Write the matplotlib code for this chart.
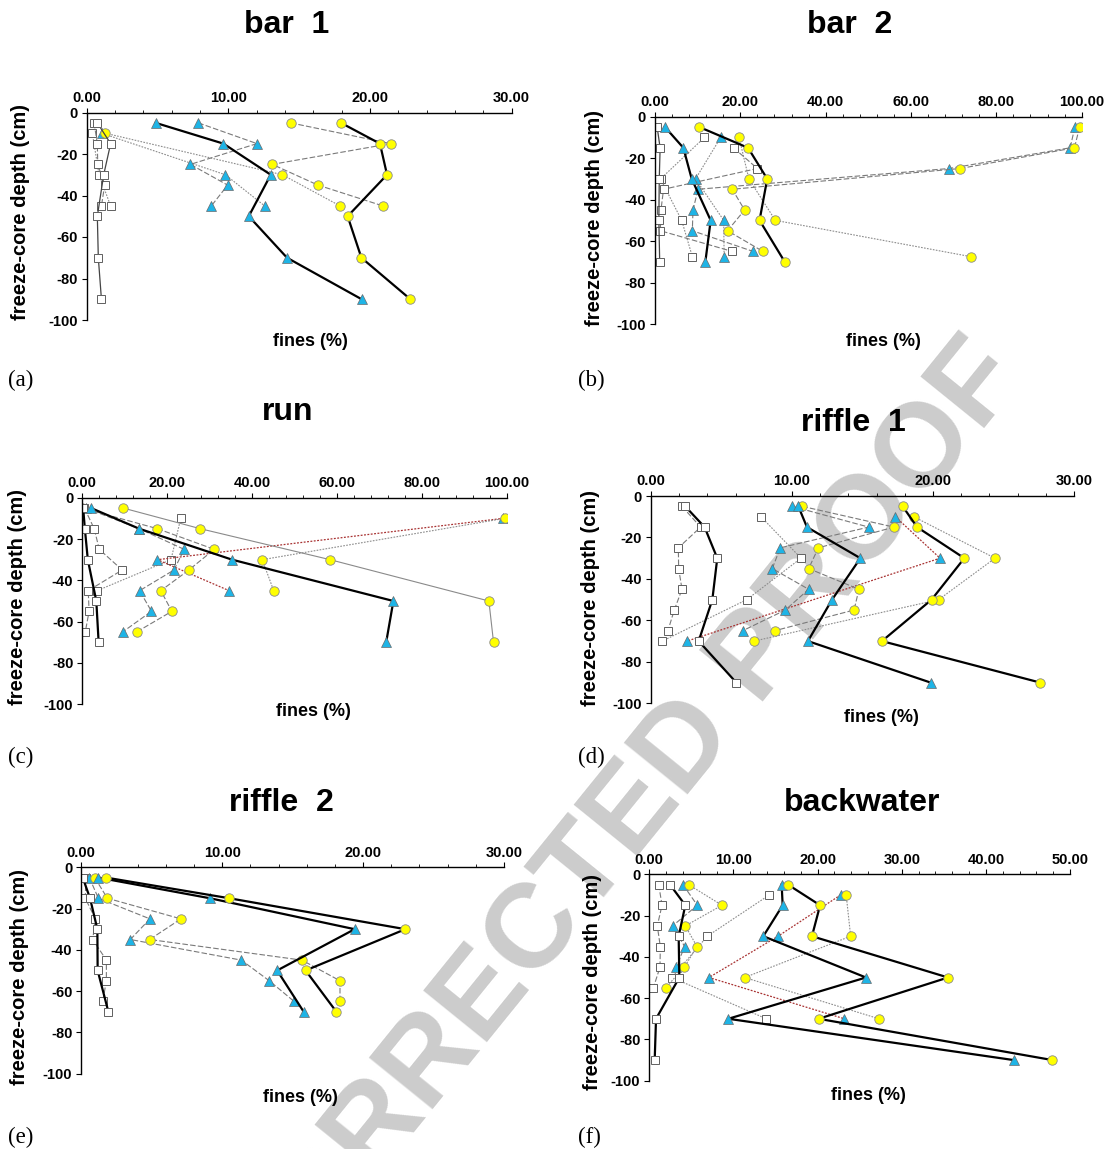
import matplotlib
matplotlib.use("Agg")
import matplotlib.pyplot as plt
import numpy as np

plt.rcParams["font.family"] = ["Liberation Sans", "DejaVu Sans"]

W, H = 1110, 1149

# ---- panel (a) bar 1 ----
a_solid_depth = [-5, -15, -30, -50, -70, -90]
a_solid_sq = [0.75, 1.69, 1.20, 0.75, 0.82, 1.04]
a_solid_tri = [4.87, 9.65, 12.99, 11.44, 14.14, 19.41]
a_solid_circ = [17.95, 20.70, 21.20, 18.42, 19.39, 22.85]
a_dash_depth = [-5, -15, -25, -35, -45]
a_dash_sq = [0.52, 0.75, 0.78, 1.27, 1.04]
a_dash_tri = [7.88, 12.02, 7.32, 9.95, 8.80]
a_dash_circ = [14.40, 21.46, 13.10, 16.33, 20.90]
a_dot_depth = [-10, -30, -45]
a_dot_sq = [0.40, 0.87, 1.69]
a_dot_tri = [1.06, 9.79, 12.56]
a_dot_circ = [1.32, 13.81, 17.88]

# ---- panel (b) bar 2 ----
b_solid_depth = [-5, -15, -30, -50, -70]
b_solid_sq = [0.5, 1.2, 1.0, 0.9, 1.1]
b_solid_tri = [2.34, 6.64, 8.6, 13.05, 11.8]
b_solid_circ = [10.4, 21.8, 26.3, 24.5, 30.4]
b_dash_depth = [-5, -15, -25, -35, -45, -55, -65]
b_dash_sq_depth = [-15, -25, -35, -45, -55, -65]
b_dash_sq = [18.4, 24.0, 2.0, 1.4, 1.25, 18.1]
b_dash_tri = [98.4, 97.3, 68.9, 10.1, 8.9, 8.75, 23.0]
b_dash_circ = [99.5, 98.3, 71.5, 18.1, 21.0, 17.0, 25.3]
b_dot_depth = [-10, -30, -50, -67.5]
b_dot_sq = [11.6, 1.3, 6.25, 8.75]
b_dot_tri = [15.4, 9.5, 16.1, 16.2]
b_dot_circ = [19.7, 22.0, 28.2, 74.0]

# ---- panel (c) run ----
c_solid_depth = [-5, -15, -30, -50, -70]
c_solid_sq = [0.2, 0.6, 1.3, 3.3, 3.85]
c_solid_tri = [2.04, 13.4, 35.3, 73.3, 71.6]
c_solid_circ = [9.6, 27.8, 58.4, 95.8, 96.9]
c_dash_depth = [-5, -15, -25, -35, -45, -55, -65]
c_dash_sq = [0.5, 2.8, 4.0, 9.4, 1.4, 1.6, 0.7]
c_dash_tri = [0.8, 13.4, 24.0, 21.6, 13.5, 16.3, 9.5]
c_dash_circ = [0.0, 17.7, 31.1, 25.1, 18.5, 21.1, 12.8]
c_dot_depth = [-10, -30, -45]
c_dot_sq = [23.2, 20.9, 3.5]
c_dot_tri = [99.2, 17.7, 34.6]
c_dot_circ = [99.5, 42.4, 45.1]

# ---- panel (d) riffle 1 ----
d_solid_depth = [-5, -15, -30, -50, -70, -90]
d_solid_sq = [2.43, 3.8, 4.7, 4.35, 3.38, 6.05]
d_solid_tri = [10.45, 11.06, 14.85, 12.84, 11.13, 19.83]
d_solid_circ = [17.85, 18.87, 22.22, 19.9, 16.38, 27.6]
d_dash_depth = [-5, -15, -25, -35, -45, -55, -65]
d_dash_sq = [2.2, 3.52, 1.94, 1.96, 2.2, 1.65, 1.2]
d_dash_tri = [10.02, 15.44, 9.17, 8.6, 11.18, 9.53, 6.5]
d_dash_circ = [10.73, 17.23, 11.87, 11.18, 14.75, 14.4, 8.77]
d_dot_depth = [-10, -30, -50, -70]
d_dot_sq = [7.8, 10.64, 6.79, 0.8]
d_dot_tri_depth = [-10, -30, -70]
d_dot_tri = [17.33, 20.5, 2.55]
d_dot_circ = [18.63, 24.4, 20.4, 7.3]

# ---- panel (e) riffle 2 ----
e_solid_depth = [-5, -15, -30, -50, -70]
e_solid_sq = [0.1, 0.62, 1.14, 1.16, 1.92]
e_solid_tri = [1.21, 9.13, 19.4, 13.9, 15.78]
e_solid_circ = [1.77, 10.5, 23.0, 15.92, 18.1]
e_dash_depth = [-5, -15, -25, -35, -45, -55, -65]
e_dash_sq = [0.33, 0.28, 1.0, 0.81, 1.78, 1.78, 1.52]
e_dash_tri = [0.57, 1.21, 4.87, 3.48, 11.36, 13.34, 15.1]
e_dash_circ = [0.95, 1.85, 7.07, 4.85, 15.66, 18.36, 18.36]

# ---- panel (f) backwater ----
f_solid_depth = [-5, -15, -30, -50, -70, -90]
f_solid_sq = [2.46, 4.28, 3.49, 3.57, 0.8, 0.64]
f_solid_tri = [15.73, 15.85, 13.55, 25.75, 9.39, 43.3]
f_solid_circ = [16.48, 20.3, 19.33, 35.5, 20.13, 47.9]
f_dash_depth = [-5, -15, -25, -35, -45, -55]
f_dash_sq = [1.12, 1.51, 0.95, 1.31, 1.27, 0.48]
f_dash_tri_depth = [-5, -15, -25, -35, -45]
f_dash_tri = [4.0, 5.7, 2.77, 4.2, 3.2]
f_dash_circ = [4.67, 8.64, 4.28, 5.67, 4.16, 1.94]
f_dot_depth = [-10, -30, -50, -70]
f_dot_sq = [14.26, 6.89, 2.7, 13.9]
f_dot_tri = [22.74, 15.3, 7.09, 23.18]
f_dot_circ = [23.4, 23.93, 11.33, 27.3]

titles = ["bar  1", "bar  2", "run", "riffle  1", "riffle  2", "backwater"]
letters = ["(a)", "(b)", "(c)", "(d)", "(e)", "(f)"]

# line styles
SOLID = dict(color="black", lw=1.6, ls="-")
THIN = dict(color="#444444", lw=0.9, ls="-")
GRAYSOLID = dict(color="#8a8a8a", lw=0.8, ls="-")
DASH = dict(color="#7a7a7a", lw=0.8, ls=(0, (5, 2)))
DOT = dict(color="#8c8c8c", lw=0.8, ls=(0, (1.5, 1.2)))
RED = dict(color="#a83232", lw=0.9, ls=(0, (1.5, 1.2)))

SQ = dict(marker="s", ms=6, mfc="white", mec="#606060", mew=0.7)
TRI = dict(marker="^", ms=6.5, mfc="#1eb4e6", mec="#6a6a6a", mew=0.5)
CIRC = dict(marker="o", ms=6.8, mfc="#ffff00", mec="#8a8a8a", mew=0.6)

fig = plt.figure(figsize=(W / 100, H / 100), dpi=100)


def px_axes(l, r, t, b):
    ax = fig.add_axes([l / W, 1 - b / H, (r - l) / W, (b - t) / H])
    ax.set_facecolor("none")
    return ax


def ftext(x, y, s, **kw):
    fig.text(x / W, 1 - y / H, s, **kw)


def series(ax, x, y, line, mk):
    ax.plot(x, y, **line, **mk)


def style_axes(ax, xmax, major, minor):
    ax.set_xlim(0, xmax)
    ax.set_ylim(-100, 0)
    ax.xaxis.tick_top()
    for s in ("right", "bottom"):
        ax.spines[s].set_visible(False)
    for s in ("left", "top"):
        ax.spines[s].set_linewidth(1.0)
    xt = np.arange(0, xmax + 0.01, major)
    ax.set_xticks(xt)
    ax.set_xticklabels(["%.2f" % v for v in xt], fontweight="bold", fontsize=10.5)
    ax.set_xticks(np.arange(0, xmax + 0.01, minor), minor=True)
    yt = np.arange(-100, 1, 20)
    ax.set_yticks(yt)
    ax.set_yticklabels(["%d" % v for v in yt], fontweight="bold", fontsize=10.5)
    ax.tick_params(axis="x", which="major", direction="out", length=3.5, pad=2)
    ax.tick_params(axis="x", which="minor", direction="out", length=2.5)
    ax.tick_params(axis="y", which="major", direction="out", length=3.5, pad=3)
    ax.tick_params(axis="y", which="minor", left=False)


# axes boxes in pixels: left, right, top, bottom
boxes = [
    (86.7, 511.7, 112.5, 320.0),
    (655.0, 1081.7, 116.7, 324.0),
    (82.3, 506.7, 497.7, 704.3),
    (651.0, 1074.0, 496.0, 703.3),
    (81.3, 504.0, 867.3, 1073.6),
    (649.3, 1070.0, 874.3, 1080.7),
]
xmaxes = [30, 100, 100, 30, 30, 50]
majors = [10, 20, 20, 10, 10, 10]
minors = [2, 4, 4, 2, 2, 2]
title_pos = [(287, 25), (850, 25), (288, 412), (853, 423), (281, 803), (862, 803)]
xlabel_pos = [(310, 342), (883, 342), (313, 712), (881, 718), (300, 1097), (868, 1095)]
ylabel_pos = [(21, 212), (594, 218), (18, 597), (591, 598), (20, 977), (593, 982)]
letter_pos = [(8, 380), (578, 380), (8, 757), (578, 757), (8, 1137), (578, 1137)]

axes = []
for i, box in enumerate(boxes):
    ax = px_axes(*box)
    style_axes(ax, xmaxes[i], majors[i], minors[i])
    axes.append(ax)

# (a)
ax = axes[0]
series(ax, a_dot_sq, a_dot_depth, DOT, SQ)
series(ax, a_dot_tri, a_dot_depth, DOT, TRI)
series(ax, a_dot_circ, a_dot_depth, DOT, CIRC)
series(ax, a_dash_sq, a_dash_depth, DASH, SQ)
series(ax, a_dash_tri, a_dash_depth, DASH, TRI)
series(ax, a_dash_circ, a_dash_depth, DASH, CIRC)
series(ax, a_solid_sq, a_solid_depth, THIN, SQ)
series(ax, a_solid_tri, a_solid_depth, SOLID, TRI)
series(ax, a_solid_circ, a_solid_depth, SOLID, CIRC)

# (b)
ax = axes[1]
series(ax, b_dot_sq, b_dot_depth, DOT, SQ)
series(ax, b_dot_tri, b_dot_depth, DOT, TRI)
series(ax, b_dot_circ, b_dot_depth, DOT, CIRC)
series(ax, b_dash_sq, b_dash_sq_depth, DASH, SQ)
series(ax, b_dash_tri, b_dash_depth, DASH, TRI)
series(ax, b_dash_circ, b_dash_depth, DASH, CIRC)
series(ax, b_solid_sq, b_solid_depth, THIN, SQ)
series(ax, b_solid_tri, b_solid_depth, SOLID, TRI)
series(ax, b_solid_circ, b_solid_depth, SOLID, CIRC)

# (c)
ax = axes[2]
series(ax, c_dot_sq, c_dot_depth, DOT, SQ)
series(ax, c_dot_tri, c_dot_depth, RED, TRI)
series(ax, c_dot_circ, c_dot_depth, DOT, CIRC)
series(ax, c_dash_sq, c_dash_depth, DASH, SQ)
series(ax, c_dash_tri, c_dash_depth, DASH, TRI)
series(ax, c_dash_circ, c_dash_depth, DASH, CIRC)
series(ax, c_solid_circ, c_solid_depth, GRAYSOLID, CIRC)
series(ax, c_solid_sq, c_solid_depth, SOLID, SQ)
series(ax, c_solid_tri, c_solid_depth, SOLID, TRI)

# (d)
ax = axes[3]
series(ax, d_dot_sq, d_dot_depth, DOT, SQ)
series(ax, d_dot_tri, d_dot_tri_depth, RED, TRI)
series(ax, d_dot_circ, d_dot_depth, DOT, CIRC)
series(ax, d_dash_sq, d_dash_depth, DASH, SQ)
series(ax, d_dash_tri, d_dash_depth, DASH, TRI)
series(ax, d_dash_circ, d_dash_depth, DASH, CIRC)
series(ax, d_solid_sq, d_solid_depth, SOLID, SQ)
series(ax, d_solid_tri, d_solid_depth, SOLID, TRI)
series(ax, d_solid_circ, d_solid_depth, SOLID, CIRC)

# (e)
ax = axes[4]
series(ax, e_dash_sq, e_dash_depth, DASH, SQ)
series(ax, e_dash_tri, e_dash_depth, DASH, TRI)
series(ax, e_dash_circ, e_dash_depth, DASH, CIRC)
series(ax, e_solid_sq, e_solid_depth, SOLID, SQ)
series(ax, e_solid_tri, e_solid_depth, SOLID, TRI)
series(ax, e_solid_circ, e_solid_depth, SOLID, CIRC)

# (f)
ax = axes[5]
series(ax, f_dot_sq, f_dot_depth, DOT, SQ)
series(ax, f_dot_tri, f_dot_depth, RED, TRI)
series(ax, f_dot_circ, f_dot_depth, DOT, CIRC)
series(ax, f_dash_sq, f_dash_depth, DASH, SQ)
series(ax, f_dash_tri, f_dash_tri_depth, DASH, TRI)
series(ax, f_dash_circ, f_dash_depth, DOT, CIRC)
series(ax, f_solid_sq, f_solid_depth, SOLID, SQ)
series(ax, f_solid_tri, f_solid_depth, SOLID, TRI)
series(ax, f_solid_circ, f_solid_depth, SOLID, CIRC)

for i in range(6):
    ftext(*title_pos[i], titles[i], fontsize=23, fontweight="bold",
          ha="center", va="center")
    ftext(*xlabel_pos[i], "fines (%)", fontsize=13, fontweight="bold",
          ha="center", va="center")
    ftext(*ylabel_pos[i], "freeze-core depth (cm)", fontsize=14.5,
          fontweight="bold", rotation=90, ha="center", va="center")
    ftext(*letter_pos[i], letters[i], fontsize=16.5, ha="left", va="center",
          family=["Liberation Serif", "DejaVu Serif"])

# watermark behind the axes (it runs off the page in the original too)
fig.text(620 / W, 1 - 830 / H, "CORRECTED PROOF", rotation=51, fontsize=86,
         fontweight="bold", color="#cccccc", ha="center", va="center",
         zorder=-1)

fig.savefig("out.png", dpi=100)
